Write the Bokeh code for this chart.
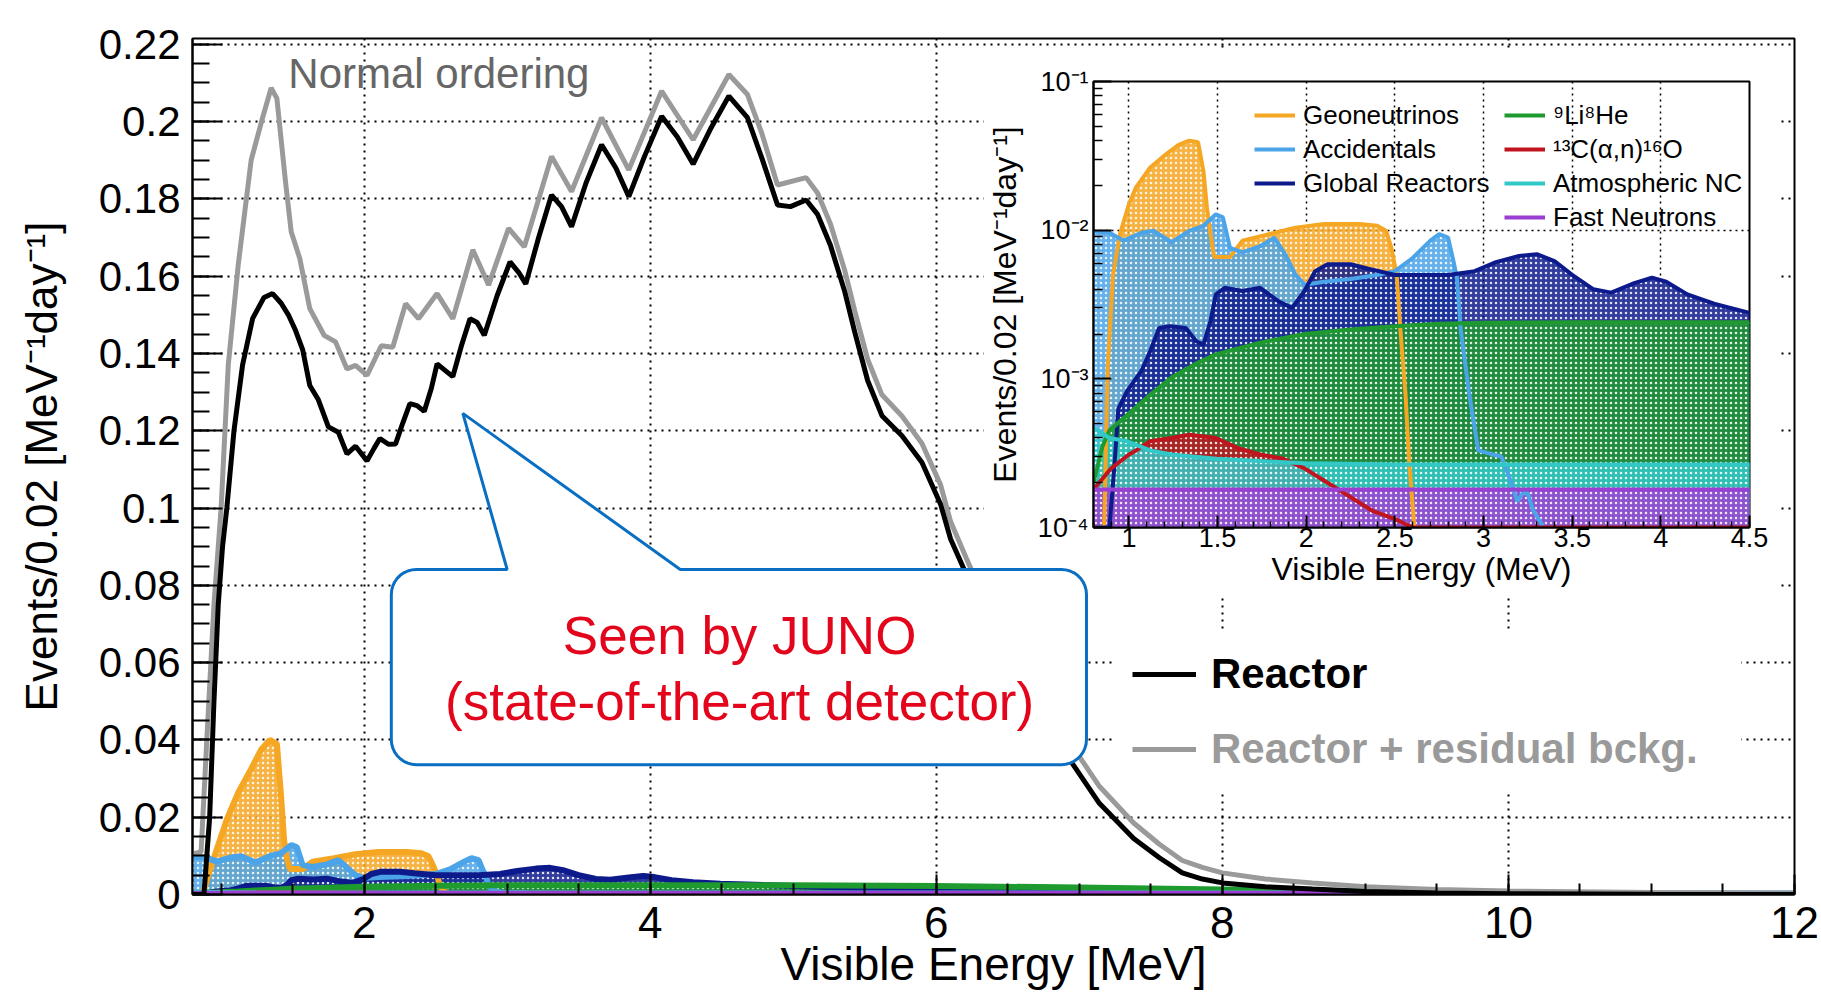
import numpy as np
from bokeh.plotting import figure
from bokeh.models import Range1d, FixedTicker, Legend, LegendItem, Label
from bokeh.layouts import column
from bokeh.embed import file_html
from bokeh.resources import INLINE

FONT = "Liberation Sans"

# ---------------- data ----------------
reactor_E = [0.80, 0.88, 0.92, 0.95, 0.98, 1.01, 1.04, 1.09, 1.15, 1.22, 1.30, 1.36, 1.42, 1.47, 1.52,
             1.57, 1.62, 1.68, 1.75, 1.82, 1.88, 1.94, 2.02, 2.07, 2.11, 2.17, 2.22, 2.27, 2.32, 2.37,
             2.42, 2.47, 2.51, 2.57, 2.62, 2.68, 2.74, 2.79, 2.84, 2.93, 3.02, 3.08, 3.13, 3.22, 3.31,
             3.38, 3.45, 3.55, 3.66, 3.76, 3.85, 3.96, 4.08, 4.19, 4.30, 4.42, 4.55, 4.68, 4.78, 4.89,
             4.98, 5.09, 5.17, 5.26, 5.36, 5.43, 5.52, 5.62, 5.76, 5.90, 6.03, 6.10, 6.21, 6.40, 6.60,
             6.80, 6.94, 7.14, 7.38, 7.56, 7.72, 7.86, 8.00, 8.30, 8.63, 9.00, 9.50, 10.0, 11.0, 12.0]
reactor_v = [0.0, 0.0, 0.020, 0.050, 0.075, 0.090, 0.100, 0.120, 0.137, 0.149, 0.1545, 0.1555, 0.153, 0.150, 0.146,
             0.141, 0.1317, 0.128, 0.121, 0.1196, 0.114, 0.116, 0.1122, 0.1155, 0.118, 0.1165, 0.1166, 0.122, 0.127, 0.1265,
             0.125, 0.131, 0.1373, 0.1355, 0.134, 0.142, 0.149, 0.148, 0.1447, 0.155, 0.1637, 0.161, 0.158, 0.170, 0.181,
             0.178, 0.1728, 0.184, 0.194, 0.188, 0.1806, 0.191, 0.2014, 0.196, 0.189, 0.198, 0.2066, 0.201, 0.1906, 0.1784,
             0.178, 0.1797, 0.176, 0.168, 0.156, 0.1455, 0.133, 0.1239, 0.1187, 0.1118, 0.101, 0.092, 0.0828, 0.067, 0.052,
             0.040, 0.0345, 0.0236, 0.0145, 0.0095, 0.0056, 0.0040, 0.0030, 0.0020, 0.0014, 0.0008, 0.0004, 0.0002, 0.00005, 0.0]

total_E = [0.80, 0.86, 0.90, 0.95, 1.00, 1.05, 1.12, 1.21, 1.29, 1.35, 1.39, 1.45, 1.49, 1.55, 1.62,
           1.72, 1.80, 1.88, 1.94, 2.02, 2.12, 2.20, 2.29, 2.38, 2.51, 2.62, 2.76, 2.87, 3.01, 3.12,
           3.31, 3.45, 3.66, 3.85, 4.08, 4.30, 4.55, 4.68, 4.78, 4.89, 5.09, 5.17, 5.26, 5.36, 5.43,
           5.52, 5.62, 5.76, 5.90, 6.03, 6.10, 6.21, 6.40, 6.60, 6.80, 6.94, 7.14, 7.38, 7.56, 7.72,
           7.86, 8.00, 8.30, 8.63, 9.00, 9.50, 10.0, 11.0, 12.0]
total_v = [0.0105, 0.011, 0.040, 0.075, 0.100, 0.137, 0.163, 0.190, 0.201, 0.2087, 0.206, 0.1845, 0.1715, 0.1646, 0.1516,
           0.1447, 0.143, 0.136, 0.1369, 0.1343, 0.142, 0.1416, 0.1529, 0.149, 0.1555, 0.149, 0.1668, 0.1577, 0.1724, 0.1676,
           0.191, 0.1819, 0.201, 0.1875, 0.2079, 0.1953, 0.2122, 0.207, 0.197, 0.1836, 0.1855, 0.1815, 0.1735, 0.1615, 0.151,
           0.1385, 0.1293, 0.1238, 0.1167, 0.106, 0.0965, 0.087, 0.071, 0.0565, 0.0445, 0.039, 0.028, 0.0185, 0.013, 0.0088,
           0.0070, 0.0056, 0.0040, 0.0030, 0.0020, 0.0013, 0.0009, 0.0005, 0.0003]

geo_E = [0.80, 0.86, 0.88, 0.91, 0.95, 1.00, 1.04, 1.12, 1.21, 1.28, 1.34, 1.39, 1.42, 1.44, 1.46, 1.48,
         1.57, 1.64, 1.79, 1.94, 2.10, 2.30, 2.40, 2.45, 2.48, 2.51, 2.53, 2.56, 2.58, 2.61, 2.63]
geo_v = [0.0, 0.0, 0.0012, 0.005, 0.0095, 0.015, 0.0194, 0.0264, 0.0325, 0.0375, 0.040, 0.039, 0.025, 0.0142, 0.0094, 0.0066,
         0.0066, 0.0085, 0.0094, 0.0104, 0.0110, 0.0110, 0.0107, 0.0099, 0.0076, 0.0050, 0.0022, 0.00078, 0.00028, 0.0001, 0.0]

acc_E = [0.80, 0.89, 0.97, 1.07, 1.14, 1.24, 1.34, 1.42, 1.49, 1.53, 1.57, 1.64, 1.74, 1.82, 1.88, 1.94, 1.99,
         2.10, 2.25, 2.40, 2.50, 2.60, 2.70, 2.75, 2.80, 2.83, 2.85, 2.87, 2.92, 2.97, 3.05, 3.10, 3.15, 3.19,
         3.22, 3.25, 3.28, 3.34, 3.36]
acc_v = [0.0098, 0.0096, 0.0085, 0.0096, 0.0099, 0.0083, 0.0099, 0.0107, 0.0128, 0.0122, 0.0076, 0.0071, 0.0078, 0.0089,
         0.0069, 0.0050, 0.0043, 0.0045, 0.0047, 0.0050, 0.0053, 0.0065, 0.0085, 0.0094, 0.0089, 0.0062, 0.0048, 0.0022,
         0.00078, 0.00033, 0.00031, 0.0003, 0.00021, 0.00015, 0.00017, 0.00017, 0.00013, 0.0001, 0.0]

glob_E = [0.80, 0.89, 0.92, 0.94, 0.99, 1.07, 1.12, 1.17, 1.23, 1.32, 1.38, 1.42, 1.46, 1.49, 1.54, 1.64, 1.74,
          1.84, 1.92, 1.99, 2.05, 2.12, 2.25, 2.35, 2.50, 2.65, 2.80, 2.95, 3.07, 3.20, 3.30, 3.40, 3.50, 3.62,
          3.72, 3.85, 3.95, 4.03, 4.15, 4.30, 4.49, 5.0, 5.5, 6.0, 7.0, 8.0, 9.0, 12.0]
glob_v = [0.0, 0.0001, 0.00028, 0.00063, 0.00083, 0.00113, 0.00154, 0.0022, 0.00226, 0.0022, 0.00179, 0.0017, 0.00245,
          0.0037, 0.0041, 0.0039, 0.0041, 0.00334, 0.0030, 0.0039, 0.0053, 0.0059, 0.0059, 0.0055, 0.0050, 0.0050,
          0.0050, 0.0053, 0.0061, 0.0067, 0.0069, 0.0062, 0.0050, 0.0040, 0.0038, 0.0044, 0.0048, 0.0045, 0.0037,
          0.0032, 0.0028, 0.0022, 0.0016, 0.0011, 0.0005, 0.00015, 0.00003, 0.0]

lihe_E = [0.80, 0.85, 0.89, 0.99, 1.12, 1.24, 1.37, 1.49, 1.74, 1.99, 2.25, 2.50, 2.75, 3.00, 3.50, 4.50,
          5.0, 6.0, 7.0, 8.0, 9.0, 10.0, 11.0, 12.0]
lihe_v = [0.0002, 0.00035, 0.00045, 0.00057, 0.00078, 0.00102, 0.00125, 0.00146, 0.00175, 0.0020, 0.00215, 0.00226,
          0.00235, 0.00238, 0.0024, 0.0024, 0.0024, 0.0022, 0.0018, 0.0013, 0.0008, 0.0004, 0.0001, 0.0]

c13_E = [0.80, 0.90, 1.00, 1.04, 1.12, 1.24, 1.34, 1.49, 1.62, 1.74, 1.87, 1.99, 2.12, 2.25, 2.37, 2.50, 2.60, 2.62, 12.0]
c13_v = [0.00018, 0.00025, 0.00031, 0.00033, 0.00038, 0.0004, 0.00042, 0.0004, 0.00034, 0.00031, 0.00029, 0.00025,
         0.0002, 0.00016, 0.00013, 0.000114, 0.0001, 0.0, 0.0]

atm_E = [0.80, 0.89, 0.99, 1.12, 1.24, 1.49, 1.74, 1.99, 2.50, 3.00, 3.50, 4.00, 4.50, 12.0]
atm_v = [0.00047, 0.0004, 0.00038, 0.00033, 0.00031, 0.00029, 0.00028, 0.00027, 0.000265, 0.000265, 0.000265,
         0.000265, 0.000265, 0.000265]

fastn_E = [0.80, 12.0]
fastn_v = [0.00018, 0.00018]

bkg_names = ["Geoneutrinos", "Accidentals", "Global Reactors", "\u2079Li\u2078He",
             "\u00b9\u00b3C(\u03b1,n)\u00b9\u2076O", "Atmospheric NC", "Fast Neutrons"]
bkg_colors = ["#F5A623", "#4BA3E8", "#0D1A8C", "#1F9A2F", "#C0141E", "#33C8C8", "#9B3FD2"]
bkg_data = [(geo_E, geo_v), (acc_E, acc_v), (glob_E, glob_v), (lihe_E, lihe_v),
            (c13_E, c13_v), (atm_E, atm_v), (fastn_E, fastn_v)]

main_xticks = [2, 4, 6, 8, 10, 12]
main_yticks = [0, 0.02, 0.04, 0.06, 0.08, 0.1, 0.12, 0.14, 0.16, 0.18, 0.2, 0.22]
main_ylabels = ["0", "0.02", "0.04", "0.06", "0.08", "0.1", "0.12", "0.14", "0.16", "0.18", "0.2", "0.22"]
ins_xticks = [1, 1.5, 2, 2.5, 3, 3.5, 4, 4.5]
ins_xlabels = ["1", "1.5", "2", "2.5", "3", "3.5", "4", "4.5"]
ins_yticks = [1e-4, 1e-3, 1e-2, 1e-1]
ins_ylabels = ["10\u207b\u2074", "10\u207b\u00b3", "10\u207b\u00b2", "10\u207b\u00b9"]

YTITLE = "Events/0.02 [MeV\u207b\u00b9day\u207b\u00b9]"

X_RANGE = Range1d(0.8, 12)
Y_RANGE = Range1d(0, 0.2215)
BORDERS = dict(min_border_left=192, min_border_right=27, min_border_top=38, min_border_bottom=98)

# ---------------- main figure ----------------
p = figure(width=1821, height=992, x_range=X_RANGE, y_range=Y_RANGE,
           output_backend="svg", toolbar_location=None, **BORDERS)
p.frame_align = False
p.background_fill_color = "white"
p.border_fill_color = "white"
p.outline_line_color = "black"
p.outline_line_width = 2

p.xaxis.ticker = FixedTicker(ticks=main_xticks, minor_ticks=list(np.arange(1.0, 12.01, 0.5)))
p.yaxis.ticker = FixedTicker(ticks=main_yticks, minor_ticks=list(np.arange(0, 0.2216, 0.005)))
p.yaxis.major_label_overrides = dict(zip(main_yticks, main_ylabels))
for ax in (p.xaxis[0], p.yaxis[0]):
    ax.axis_line_width = 2
    ax.major_tick_line_width = 2
    ax.minor_tick_line_width = 2
    ax.major_tick_out = 0
    ax.minor_tick_out = 0
    ax.major_label_text_font = FONT
    ax.axis_label_text_font = FONT
    ax.axis_label_text_font_style = "normal"
    ax.axis_label_text_color = "black"
    ax.major_label_text_color = "black"
p.xaxis.axis_label_text_font_size = "46px"
p.yaxis.axis_label_text_font_size = "44px"
p.xaxis.major_tick_in = 20
p.xaxis.minor_tick_in = 11
p.yaxis.major_tick_in = 30
p.yaxis.minor_tick_in = 17
p.xaxis.major_label_text_font_size = "44px"
p.yaxis.major_label_text_font_size = "42px"
p.xaxis.major_label_standoff = 12
p.xaxis.axis_label_standoff = -3
p.yaxis.major_label_standoff = 12
p.yaxis.axis_label_standoff = 30
p.xaxis.axis_label = "Visible Energy [MeV]"
p.yaxis.axis_label = YTITLE
p.grid.grid_line_color = "black"
p.grid.grid_line_dash = "2 5"
p.grid.grid_line_width = 2


def draw_backgrounds(fig, floor, clip, lw):
    for (E, v), c in zip(bkg_data, bkg_colors):
        vv = np.maximum(np.array(v), floor) if clip else np.array(v)
        fig.varea(x=E, y1=floor, y2=vv, fill_color=c, fill_alpha=0.85,
                  hatch_pattern="dot", hatch_color="white", hatch_scale=5, hatch_weight=1.5, hatch_alpha=0.85)
    rends = []
    for (E, v), c in zip(bkg_data, bkg_colors):
        vv = np.maximum(np.array(v), floor) if clip else np.array(v)
        rends.append(fig.line(E, vv, line_color=c, line_width=lw))
    return rends


draw_backgrounds(p, 0.0, False, 6)
r_total = p.line(total_E, total_v, line_color="#9A9A9A", line_width=5)
r_react = p.line(reactor_E, reactor_v, line_color="black", line_width=5)

leg_main = dict(label_text_font=FONT, label_text_font_size="42px", label_text_font_style="bold",
                glyph_width=64, glyph_height=50, label_height=50, label_width=510,
                label_standoff=15, padding=20, margin=0, spacing=0, border_line_alpha=0,
                background_fill_color="white", background_fill_alpha=1)
legA = Legend(items=[LegendItem(label="Reactor", renderers=[r_react])], location=(920, 175),
              label_text_color="black", **leg_main)
legB = Legend(items=[LegendItem(label="Reactor + residual bckg.", renderers=[r_total])], location=(920, 100),
              label_text_color="#9A9A9A", **leg_main)
p.add_layout(legA)
p.add_layout(legB)
p.add_layout(Label(x=1.47, y=0.2125, text="Normal ordering", text_align="left", text_baseline="middle",
                   text_font=FONT, text_font_size="42px", text_color="#666666"))

# ---------------- inset ----------------
q = figure(width=797, height=548, x_range=Range1d(0.8, 4.5), y_range=Range1d(1e-4, 1e-1),
           y_axis_type="log", output_backend="svg", toolbar_location=None,
           min_border_left=108, min_border_right=31, min_border_top=31, min_border_bottom=71)
q.frame_align = False
q.background_fill_color = "white"
q.border_fill_color = "white"
q.outline_line_color = "black"
q.outline_line_width = 2
q.xaxis.ticker = FixedTicker(ticks=ins_xticks, minor_ticks=list(np.arange(0.8, 4.51, 0.1)))
q.xaxis.major_label_overrides = dict(zip(ins_xticks, ins_xlabels))
q.yaxis.ticker = FixedTicker(ticks=ins_yticks,
                             minor_ticks=[k * 10.0 ** e for e in (-4, -3, -2) for k in range(2, 10)])
q.yaxis.major_label_overrides = dict(zip(ins_yticks, ins_ylabels))
for ax in (q.xaxis[0], q.yaxis[0]):
    ax.axis_line_width = 2
    ax.major_tick_line_width = 2
    ax.minor_tick_line_width = 1.5
    ax.major_tick_out = 0
    ax.minor_tick_out = 0
    ax.major_label_text_font = FONT
    ax.major_label_text_font_size = "27px"
    ax.major_label_text_color = "black"
    ax.axis_label_text_font = FONT
    ax.axis_label_text_font_style = "normal"
    ax.axis_label_text_font_size = "32px"
    ax.axis_label_text_color = "black"
q.xaxis.major_tick_in = 12
q.xaxis.minor_tick_in = 6
q.yaxis.major_tick_in = 18
q.yaxis.minor_tick_in = 9
q.xaxis.major_label_standoff = 0
q.xaxis.axis_label_standoff = 1
q.yaxis.major_label_standoff = 5
q.yaxis.axis_label_standoff = 12
q.xaxis.axis_label = "Visible Energy (MeV)"
q.yaxis.axis_label = YTITLE
q.grid.grid_line_color = "black"
q.grid.grid_line_dash = "2 4"
q.grid.grid_line_width = 1.5

ins_rends = draw_backgrounds(q, 1e-4, True, 4)

leg_kw = dict(label_text_font=FONT, label_text_font_size="26px", label_text_color="black",
              glyph_width=41, glyph_height=34, label_height=34, label_standoff=8, padding=0, margin=0,
              spacing=0, border_line_alpha=0, background_fill_alpha=0)
leg1 = Legend(items=[LegendItem(label=bkg_names[i], renderers=[ins_rends[i]]) for i in range(3)],
              location=(161, 327), **leg_kw)
leg2 = Legend(items=[LegendItem(label=bkg_names[i], renderers=[ins_rends[i]]) for i in range(3, 7)],
              location=(411, 293), **leg_kw)
q.add_layout(leg1)
q.add_layout(leg2)
q.margin = (-(992 - 50), 0, 0, 983)

# ---------------- callout overlay (drawn above the inset, same frame as main) ----------------
c = figure(width=1821, height=992, x_range=X_RANGE, y_range=Y_RANGE, output_backend="svg",
           toolbar_location=None, x_axis_location=None, y_axis_location=None, **BORDERS)
c.frame_align = False
c.grid.visible = False
c.outline_line_color = None
c.background_fill_alpha = 0
c.border_fill_alpha = 0

bl, br, bb, bt = 2.19, 7.05, 0.0336, 0.0841
pl, pr, tipx, tipy = 3.00, 4.21, 2.69, 0.1245
rx, ry = 25 / 143.0, 25 / 3864.0
xs, ys = [bl + rx, pl, tipx, pr, br - rx], [bt, bt, tipy, bt, bt]
for cx, cy, a0, a1 in [(br - rx, bt - ry, 90, 0), (br - rx, bb + ry, 0, -90),
                       (bl + rx, bb + ry, -90, -180), (bl + rx, bt - ry, 180, 90)]:
    t = np.linspace(np.radians(a0), np.radians(a1), 10)
    xs += list(cx + rx * np.cos(t))
    ys += list(cy + ry * np.sin(t))
c.patch(xs, ys, fill_color="white", line_color="#0A6FC2", line_width=3)
c.add_layout(Label(x=4.625, y=0.0670, text="Seen by JUNO", text_align="center", text_baseline="middle",
                   text_font=FONT, text_font_size="53px", text_color="#E3051B"))
c.add_layout(Label(x=4.625, y=0.0499, text="(state-of-the-art detector)", text_align="center",
                   text_baseline="middle", text_font=FONT, text_font_size="53px", text_color="#E3051B"))
c.margin = (-(992 - 942 + 548), 0, 0, 0)

layout = column(p, q, c)
open("out.html", "w").write(file_html(layout, INLINE))
